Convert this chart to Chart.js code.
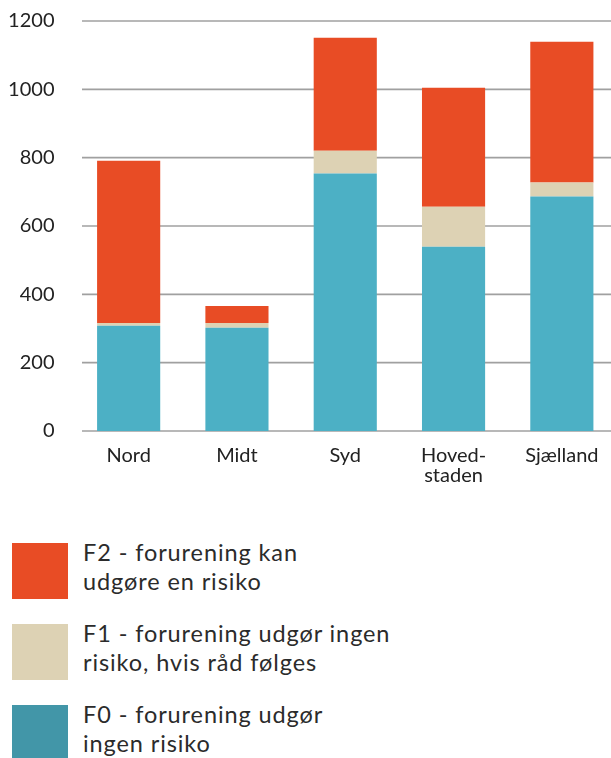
<!DOCTYPE html>
<html>
<head>
<meta charset="utf-8">
<script src="https://cdn.jsdelivr.net/npm/chart.js@4"></script>
<style>
  html, body { margin: 0; padding: 0; background: #fff; }
  body { width: 611px; height: 758px; position: relative; overflow: hidden; font-family: Lato, sans-serif; }
  #wrap { position: absolute; left: 0; top: -9px; width: 616px; height: 509px; }
  #legend { position: absolute; left: 12px; top: 543px; }
  .item { position: relative; height: 81px; }
  .box { position: absolute; left: 0; top: 0; width: 56px; height: 56px; }
  .txt { position: absolute; left: 71px; top: -5px; font-size: 23.5px; letter-spacing: 0.9px; line-height: 29px; color: #2b2b2b; white-space: nowrap; }
</style>
</head>
<body>
<div id="wrap"><canvas id="chart"></canvas></div>
<div id="legend"></div>
<script>
// categories and series values
const regions = ['Nord', 'Midt', 'Syd', ['Hoved-', 'staden'], 'Sjælland'];
const f0Values = [308, 302, 754, 539, 686];
const f1Values = [8, 14, 66, 117, 41];
const f2Values = [475, 50, 331, 349, 412];
const yTicks = [0, 200, 400, 600, 800, 1000, 1200];

const seriesLabels = {
    f2: ['F2 - forurening kan', 'udgøre en risiko'],
    f1: ['F1 - forurening udgør ingen', 'risiko, hvis råd følges'],
    f0: ['F0 - forurening udgør', 'ingen risiko']
};

/**
 * Gridlines start a little right of the axis labels and run to the edge
 */
const wideGrid = {
    id: 'wideGrid',
    beforeDatasetsDraw(chart) {
        const ctx = chart.ctx;
        const y = chart.scales.y;
        ctx.save();
        ctx.strokeStyle = '#a0a0a0';
        ctx.lineWidth = 1.6;
        yTicks.forEach(v => {
            const py = y.getPixelForValue(v);
            ctx.beginPath();
            ctx.moveTo(82, py);
            ctx.lineTo(chart.width, py);
            ctx.stroke();
        });
        ctx.restore();
    }
};

const tickFont = { family: 'Lato, sans-serif', size: 20, lineHeight: 1.0 };

new Chart(document.getElementById('chart'), {
    type: 'bar',
    data: {
        labels: regions,
        datasets: [
            { label: seriesLabels.f0.join(' '), data: f0Values, backgroundColor: '#4cb0c5' },
            { label: seriesLabels.f1.join(' '), data: f1Values, backgroundColor: '#ddd2b4' },
            { label: seriesLabels.f2.join(' '), data: f2Values, backgroundColor: '#e84c25' }
        ]
    },
    options: {
        responsive: true,
        maintainAspectRatio: false,
        animation: false,
        layout: { padding: { top: 6, right: 0, left: 0, bottom: 0 } },
        datasets: { bar: { barPercentage: 1, categoryPercentage: 0.583 } },
        plugins: { legend: { display: false }, tooltip: { enabled: false } },
        scales: {
            x: {
                stacked: true,
                grid: { display: false, drawTicks: false },
                border: { display: false },
                ticks: { color: '#222', font: tickFont, padding: 15, maxRotation: 0, autoSkip: false },
                afterFit(scale) { scale.height = 69; }
            },
            y: {
                stacked: true,
                min: 0,
                max: 1200,
                grid: { display: false, drawTicks: false },
                border: { display: false },
                ticks: { stepSize: 200, color: '#222', font: tickFont, padding: 20, callback: v => String(v) },
                afterFit(scale) { scale.width = 74.5; }
            }
        }
    },
    plugins: [wideGrid]
});

// custom legend below the chart
const legendItems = [
    { color: '#e84c25', lines: seriesLabels.f2 },
    { color: '#ddd2b4', lines: seriesLabels.f1 },
    { color: '#4296a8', lines: seriesLabels.f0 }
];
const legend = document.getElementById('legend');
legendItems.forEach(item => {
    const row = document.createElement('div');
    row.className = 'item';
    const box = document.createElement('div');
    box.className = 'box';
    box.style.background = item.color;
    const txt = document.createElement('div');
    txt.className = 'txt';
    txt.innerHTML = item.lines.join('<br>');
    row.appendChild(box);
    row.appendChild(txt);
    legend.appendChild(row);
});
</script>
</body>
</html>
